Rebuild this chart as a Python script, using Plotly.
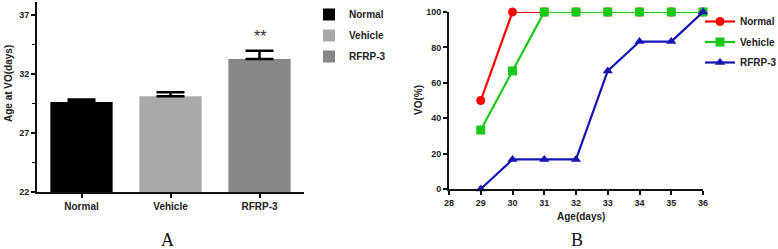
import plotly.graph_objects as go

# ---- data: panel A ----
groups = ["Normal", "Vehicle", "RFRP-3"]
age_mean = [29.63, 30.11, 33.27]
age_err = [0.2, 0.34, 0.70]
bar_colors = ["#000000", "#a9a9a9", "#878787"]

# ---- data: panel B ----
days = [29, 30, 31, 32, 33, 34, 35, 36]
vo_normal = [50, 100, 100, 100, 100, 100, 100, 100]
vo_vehicle = [33.3, 66.7, 100, 100, 100, 100, 100, 100]
vo_rfrp3 = [0, 16.7, 16.7, 16.7, 66.7, 83.3, 83.3, 100]
x_ticks = [28, 29, 30, 31, 32, 33, 34, 35, 36]

W, H = 778, 249
def px(x):
    return x / W
def py(y):
    return 1 - y / H

FONT = "Liberation Sans"
tickfont = dict(family=FONT, size=9, color="#222", weight="bold")
labfont = dict(family=FONT, size=10, color="#222", weight="bold")

fig = go.Figure()

for g, m, e, c in zip(groups, age_mean, age_err, bar_colors):
    fig.add_trace(go.Bar(
        x=[g], y=[m], name=g, width=0.7, legendgroup="a_" + g,
        marker=dict(color=c, line=dict(width=0)),
        error_y=dict(type="data", array=[e], arrayminus=[0], symmetric=False,
                     color="#000", thickness=2.5, width=14),
        xaxis="x", yaxis="y", legend="legend", hoverinfo="skip",
    ))

series = [
    ("Normal", vo_normal, "#ff0000", "circle"),
    ("Vehicle", vo_vehicle, "#19c819", "square"),
    ("RFRP-3", vo_rfrp3, "#1414b4", "triangle-up"),
]
for name, vals, col, sym in series:
    fig.add_trace(go.Scatter(
        x=days, y=vals, name=name, mode="lines+markers", legendgroup="b_" + name,
        line=dict(color=col, width=2.2),
        marker=dict(color=col, symbol=sym, size=9),
        cliponaxis=False,
        xaxis="x2", yaxis="y2", legend="legend2", hoverinfo="skip",
    ))

axis_common = dict(showgrid=False, zeroline=False, showline=True, linecolor="#111",
                   linewidth=2, ticks="outside", ticklen=4, tickwidth=2, tickcolor="#111",
                   automargin=False, fixedrange=True)

def ann(x, y, text, font, angle=0):
    return dict(x=px(x), y=py(y), xref="paper", yref="paper", text=text,
                xanchor="center", yanchor="middle", textangle=angle,
                showarrow=False, font=font)

fig.update_layout(
    template="none",
    width=W, height=H, autosize=False,
    margin=dict(l=0, r=0, t=0, b=0, pad=0, autoexpand=False),
    paper_bgcolor="white", plot_bgcolor="white",
    barmode="overlay",
    showlegend=True,
    xaxis=dict(domain=[px(37), px(304)], range=[-0.5, 2.5], anchor="y",
               tickfont=labfont, **axis_common),
    yaxis=dict(domain=[py(192), py(2)], range=[22, 38.1], anchor="x",
               tickvals=[22, 27, 32, 37], tickfont=tickfont,
               minor=dict(dtick=2.5, tick0=22, ticks="outside", ticklen=3,
                          tickwidth=1.5, tickcolor="#111"),
               **axis_common),
    xaxis2=dict(domain=[px(449), px(703)], range=[28, 36], anchor="y2",
                tickvals=x_ticks, tickfont=tickfont, **axis_common),
    yaxis2=dict(domain=[py(189), py(12)], range=[0, 100], anchor="x2",
                tickvals=[0, 20, 40, 60, 80, 100], tickfont=tickfont, **axis_common),
    legend=dict(x=px(309), y=py(0), xanchor="left", yanchor="top",
                font=labfont, bgcolor="rgba(0,0,0,0)", itemwidth=30,
                tracegroupgap=2),
    legend2=dict(x=px(700), y=py(7), xanchor="left", yanchor="top",
                 font=labfont, bgcolor="rgba(0,0,0,0)", itemwidth=30,
                 tracegroupgap=1.5),
    annotations=[
        dict(x="RFRP-3", y=age_mean[2] + age_err[2], xref="x", yref="y",
             text="**", showarrow=False, yshift=14, xanchor="center", yanchor="middle",
             font=dict(family=FONT, size=16, color="#333")),
        ann(8, 84, "Age at VO(days)", labfont, -90),
        ann(418, 100, "VO(%)", labfont, -90),
        ann(581, 216, "Age(days)", labfont),
        ann(167, 240, "A", dict(family="Liberation Serif", size=18, color="#111")),
        ann(577, 240, "B", dict(family="Liberation Serif", size=18, color="#111")),
    ],
)

post = (
    "document.documentElement.style.overflow='hidden';"
    "document.body.style.margin='0';document.body.style.overflow='hidden';"
)
fig.write_html("out.html",
               config={"displayModeBar": False, "staticPlot": True, "responsive": False},
               post_script=post)
